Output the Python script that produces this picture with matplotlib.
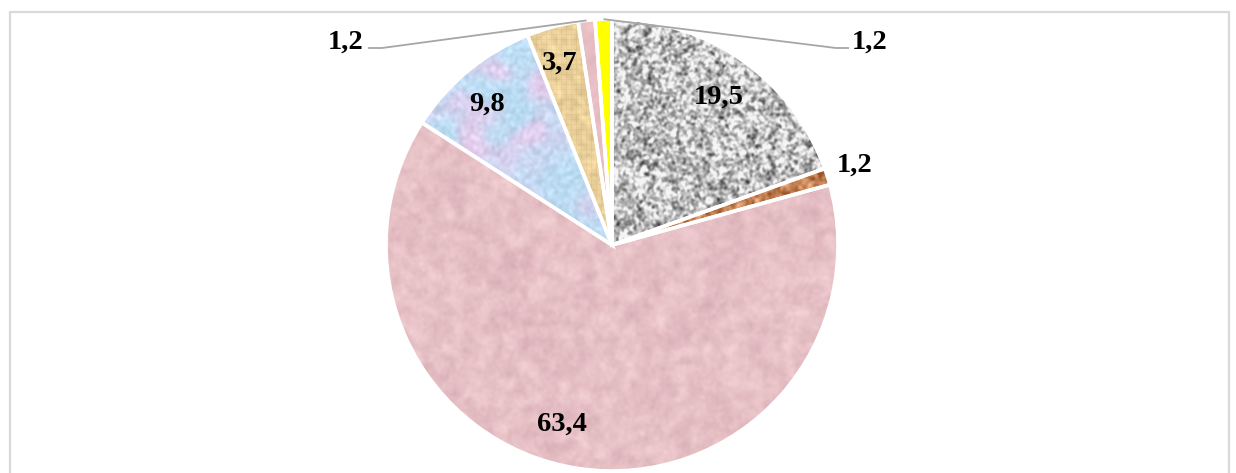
import numpy as np
import matplotlib
matplotlib.use('Agg')
import matplotlib.pyplot as plt

# shares, clockwise from 12 o'clock
values = [19.5, 1.2, 63.4, 9.8, 3.7, 1.2, 1.2]
labels = ["19,5", "1,2", "63,4", "9,8", "3,7", "1,2", "1,2"]

W, H = 1236, 473
cx, cy, R = 612, H - 245, 226

rng = np.random.default_rng(7)
N = 2 * R


def smooth_noise(sigma):
    # gaussian-smoothed white noise, normalised to unit std
    n = rng.normal(size=(N, N))
    fy = np.fft.fftfreq(N)[:, None]
    fx = np.fft.fftfreq(N)[None, :]
    g = np.exp(-2 * (np.pi * sigma) ** 2 * (fx ** 2 + fy ** 2))
    s = np.real(np.fft.ifft2(np.fft.fft2(n) * g))
    return (s - s.mean()) / s.std()


def flat(rgb, amp=0.0, sigma=2.0):
    img = np.ones((N, N, 3)) * np.array(rgb, float)
    if amp:
        img += amp * smooth_noise(sigma)[..., None]
    return np.clip(img, 0, 255) / 255.0


def granite():
    v = smooth_noise(1.2) + 0.3 * smooth_noise(3.5)
    g = np.clip(190 + 38 * v, 60, 245)
    return np.dstack([g, g, g]) / 255.0


def felt_pink():
    img = np.ones((N, N, 3)) * np.array([230, 192, 197.0])
    img += 3.5 * smooth_noise(4)[..., None] * np.array([1, 1.3, 1.1])
    img += 2.5 * smooth_noise(1.5)[..., None]
    return np.clip(img, 0, 255) / 255.0


def pastel_blue():
    t = 1 / (1 + np.exp(-1.5 * (smooth_noise(9) - 0.6)))
    a = np.array([186, 222, 244.0])
    b = np.array([228, 204, 236.0])
    img = (1 - t[..., None]) * a + t[..., None] * b
    img += 6 * smooth_noise(1.5)[..., None]
    return np.clip(img, 0, 255) / 255.0


def woven_tan():
    img = np.ones((N, N, 3)) * np.array([236, 210, 156.0])
    yy, xx = np.mgrid[0:N, 0:N]
    grid = ((xx % 5 == 0) | (yy % 5 == 0)).astype(float)
    img -= 8 * grid[..., None] * np.array([1, 1, 1.3])
    img += 6 * smooth_noise(2)[..., None]
    return np.clip(img, 0, 255) / 255.0


textures = [
    granite(),
    flat((196, 130, 84), 20, 1.5),
    felt_pink(),
    pastel_blue(),
    woven_tan(),
    flat((230, 190, 196), 3, 3),
    flat((255, 255, 0)),
]

fig = plt.figure(figsize=(W / 100, H / 100), dpi=100)
ax = fig.add_axes([0, 0, 1, 1])

wedges, _ = ax.pie(values, startangle=90, counterclock=False,
                   center=(cx, cy), radius=R,
                   colors=["none"] * len(values),
                   wedgeprops=dict(edgecolor="white", linewidth=2.6, zorder=3))

for w, tex in zip(wedges, textures):
    im = ax.imshow(tex, extent=(cx - R, cx + R, cy - R, cy + R),
                   origin="lower", interpolation="bilinear", zorder=2)
    im.set_clip_path(w)

font = dict(family="Liberation Serif", weight="bold", size=20.5, color="black")
half_digit = 9.5  # baseline sits this far below the digit centre

# label placement: (radius fraction, angle shift in degrees)
placement = {0: (0.819, -0.2), 1: (1.132, 1.2), 2: (0.81, -7.2),
             3: (0.844, 1.4), 4: (0.85, 0.4)}
for i, w in enumerate(wedges):
    mid = np.deg2rad((w.theta1 + w.theta2) / 2)
    if i in placement:
        f, d = placement[i]
        a = mid + np.deg2rad(d)
        ax.text(cx + f * R * np.cos(a), cy + f * R * np.sin(a) - half_digit,
                labels[i], ha="center", va="baseline", zorder=5, **font)
    else:
        # leader line from the rim out to a label beside the pie
        ex, ey = cx + R * np.cos(mid), cy + R * np.sin(mid)
        ly = H - 48
        if i == 5:
            xs, tx, ha = [ex, 382, 368], 364, "right"
        else:
            xs, tx, ha = [ex, 836, 849], 852, "left"
        ax.plot(xs, [ey, ly, ly], color="#a6a6a6", lw=1.3, zorder=4,
                solid_capstyle="butt")
        ax.text(tx, H - 39.5 - half_digit, labels[i], ha=ha, va="baseline",
                zorder=5, **font)

# chart area frame
ax.plot([10, 10, 1229, 1229], [-5, H - 12, H - 12, -5], color="#d9d9d9", lw=1.6, zorder=1)

ax.set_xlim(0, W)
ax.set_ylim(0, H)
ax.set_aspect("equal")
ax.axis("off")

fig.savefig("out.png", dpi=100)
